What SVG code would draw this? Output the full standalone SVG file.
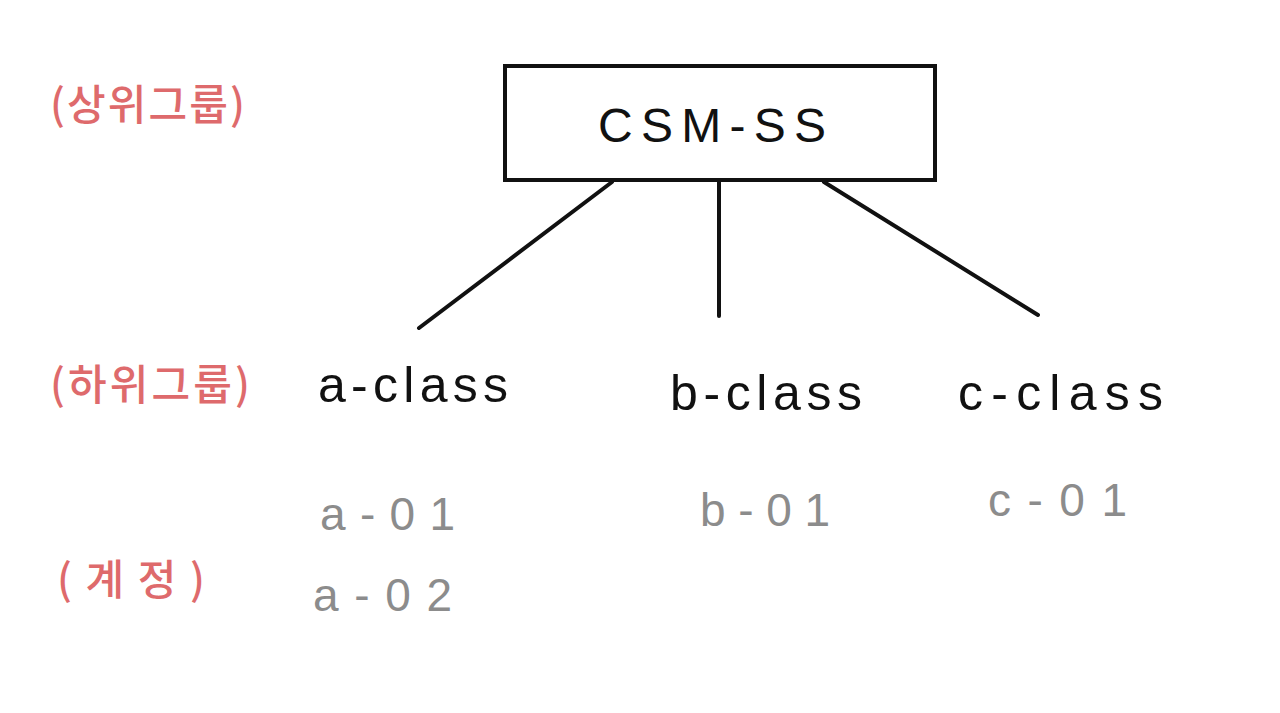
<svg xmlns="http://www.w3.org/2000/svg" width="1280" height="713" viewBox="0 0 1280 713">
<style>
.lbl{font-family:"Noto Sans CJK KR","Noto Sans",sans-serif;fill:#de6a6c;font-size:42px;font-weight:500}
.cls{font-family:"Liberation Sans","DejaVu Sans",sans-serif;fill:#111;font-size:50px}
.acc{font-family:"Liberation Sans","DejaVu Sans",sans-serif;fill:#8c8c8c;font-size:46px}
.edge{stroke:#111;stroke-width:4;stroke-linecap:round;fill:none}
</style>
<rect width="1280" height="713" fill="#fff"/>
<g id="label-upper"><text class="lbl" x="50" y="120" textLength="195" lengthAdjust="spacing">(상위그룹)</text></g>
<g id="label-lower"><text class="lbl" x="50" y="400" textLength="200" lengthAdjust="spacing">(하위그룹)</text></g>
<g id="label-account"><text class="lbl" x="57" y="595" textLength="148" lengthAdjust="spacing">(계정)</text></g>
<g id="connectors">
<line class="edge" x1="612" y1="182" x2="419" y2="328"/>
<line class="edge" x1="719" y1="182" x2="719" y2="316"/>
<line class="edge" x1="824" y1="182" x2="1038" y2="315"/>
</g>
<g id="csm-ss">
<rect x="505" y="66" width="430" height="114" fill="#fff" stroke="#111" stroke-width="4"/>
<text x="598" y="142" font-family="Liberation Sans, sans-serif" font-size="48" fill="#111" textLength="228" lengthAdjust="spacing">CSM-SS</text>
</g>
<g id="a-class"><text class="cls" x="318" y="402" textLength="190" lengthAdjust="spacing">a-class</text></g>
<g id="b-class"><text class="cls" x="670" y="410" textLength="192" lengthAdjust="spacing">b-class</text></g>
<g id="c-class"><text class="cls" x="958" y="410" textLength="205" lengthAdjust="spacing">c-class</text></g>
<g id="a-01"><text class="acc" x="320" y="530" textLength="135" lengthAdjust="spacing">a-01</text></g>
<g id="a-02"><text class="acc" x="313" y="611" textLength="139" lengthAdjust="spacing">a-02</text></g>
<g id="b-01"><text class="acc" x="700" y="526" textLength="130" lengthAdjust="spacing">b-01</text></g>
<g id="c-01"><text class="acc" x="988" y="516" textLength="139" lengthAdjust="spacing">c-01</text></g>
</svg>
